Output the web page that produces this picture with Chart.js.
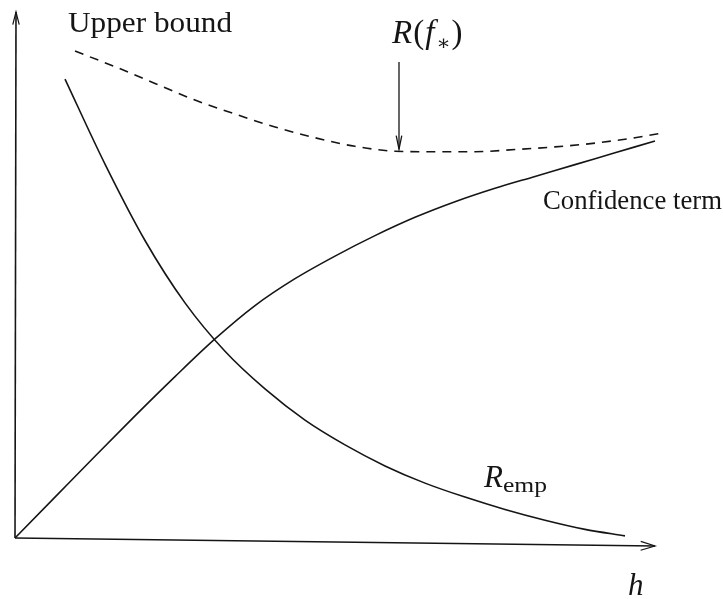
<!DOCTYPE html>
<html>
<head>
<meta charset="utf-8">
<title>Risk bound</title>
<script src="https://cdn.jsdelivr.net/npm/chart.js@4"></script>
<style>
    html, body { margin: 0; padding: 0; background: #fff; }
    canvas { display: block; }
</style>
</head>
<body>
<canvas id="bound" width="723" height="599"></canvas>
<script>
(function () {
    "use strict";

    // capacity h on the horizontal axis, risk on the vertical one (arbitrary units)
    const confH   = [0, 1, 2, 3, 4, 5, 6, 7, 8, 9, 10, 11, 12, 13, 14, 15, 16];
    const confVal = [0, 0.76, 1.52, 2.27, 3.00, 3.70, 4.32, 4.82, 5.24, 5.62, 5.96, 6.25, 6.50, 6.72, 6.94, 7.16, 7.38];

    const empH   = [1.25, 2.25, 3.25, 4.25, 5.25, 6.25, 7.25, 8.25, 9.25, 10.25, 11.25, 12.25, 13.25, 14.25, 15.25];
    const empVal = [8.53, 6.95, 5.53, 4.37, 3.47, 2.77, 2.19, 1.73, 1.34, 1.02, 0.76, 0.53, 0.33, 0.16, 0.04];

    const boundH   = [1.5, 2.5, 3.5, 4.5, 5.5, 6.5, 7.5, 8.5, 9.5, 10.5, 11.5, 12.5, 13.5, 14.5, 15.5, 16.2];
    const boundVal = [9.05, 8.76, 8.45, 8.14, 7.88, 7.64, 7.44, 7.28, 7.19, 7.18, 7.18, 7.22, 7.27, 7.34, 7.44, 7.53];

    // where the R(f*) arrow points on the upper bound
    const bestH = 9.6;

    const INK = "#151515";
    const SERIF = '"Liberation Serif", "DejaVu Serif", serif';

    function points(xs, ys) {
        return xs.map((x, i) => ({ x: x, y: ys[i] }));
    }

    function line(data, dashed) {
        return {
            data: data,
            borderColor: INK,
            borderWidth: 1.6,
            borderDash: dashed ? [9, 7] : [],
            pointRadius: 0,
            fill: false,
            cubicInterpolationMode: "monotone",
            clip: false
        };
    }

    function boundAt(h) {
        for (let i = 1; i < boundH.length; i++) {
            if (h <= boundH[i]) {
                const t = (h - boundH[i - 1]) / (boundH[i] - boundH[i - 1]);
                return boundVal[i - 1] + t * (boundVal[i] - boundVal[i - 1]);
            }
        }
        return boundVal[boundVal.length - 1];
    }

    // text drawn at x, optionally squeezed or stretched to a given width
    function text(ctx, str, x, y, font, width) {
        ctx.save();
        ctx.font = font;
        const w = ctx.measureText(str).width;
        ctx.translate(x, y);
        ctx.scale(width ? width / w : 1, 1);
        ctx.fillText(str, 0, 0);
        ctx.restore();
        return width || w;
    }

    function arrowHead(ctx, x, y, angle, len, spread) {
        ctx.beginPath();
        ctx.moveTo(x - len * Math.cos(angle - spread), y - len * Math.sin(angle - spread));
        ctx.lineTo(x, y);
        ctx.lineTo(x - len * Math.cos(angle + spread), y - len * Math.sin(angle + spread));
        ctx.stroke();
    }

    const decorations = {
        id: "decorations",
        afterDatasetsDraw(chart) {
            const ctx = chart.ctx;
            const sx = chart.scales.x;
            const sy = chart.scales.y;
            const ox = sx.getPixelForValue(0);
            const oy = sy.getPixelForValue(0);

            ctx.save();
            ctx.strokeStyle = INK;
            ctx.fillStyle = INK;
            ctx.lineWidth = 1.6;
            ctx.setLineDash([]);

            // axes
            const topY = 12;
            ctx.beginPath();
            ctx.moveTo(ox, oy);
            ctx.lineTo(ox + 1, topY);
            ctx.stroke();
            ctx.lineWidth = 1.2;
            arrowHead(ctx, ox + 1, topY, -Math.PI / 2, 13, 0.25);

            const tipX = sx.getPixelForValue(16), tipY = oy + 8;
            ctx.lineWidth = 1.6;
            ctx.beginPath();
            ctx.moveTo(ox, oy);
            ctx.lineTo(tipX, tipY);
            ctx.stroke();
            ctx.lineWidth = 1.2;
            arrowHead(ctx, tipX, tipY, Math.atan2(tipY - oy, tipX - ox), 15, 0.3);

            // arrow down to the best trade-off
            const mx = sx.getPixelForValue(bestH);
            const my = sy.getPixelForValue(boundAt(bestH)) - 2;
            ctx.lineWidth = 1.3;
            ctx.beginPath();
            ctx.moveTo(mx, 62);
            ctx.lineTo(mx, my);
            ctx.stroke();
            arrowHead(ctx, mx, my, Math.PI / 2, 14, 0.2);

            // labels
            ctx.textBaseline = "alphabetic";
            text(ctx, "Upper bound", 68, 32, "29px " + SERIF, 164);
            text(ctx, "Confidence term", 543, 209, "27px " + SERIF, 179);

            let x = 392;
            x += text(ctx, "R", x, 43, "italic 33px " + SERIF) + 1;
            x += text(ctx, "(", x, 43, "33px " + SERIF) + 1;
            x += text(ctx, "f", x, 43, "italic 33px " + SERIF) + 2;
            x += text(ctx, "\u2217", x, 50, "21px " + SERIF) + 1;
            text(ctx, ")", x, 43, "33px " + SERIF);

            text(ctx, "R", 484, 487, "italic 31px " + SERIF);
            text(ctx, "emp", 503, 492, "22px " + SERIF, 44);

            text(ctx, "h", 628, 595, "italic 31px " + SERIF);
            ctx.restore();
        }
    };

    new Chart(document.getElementById("bound").getContext("2d"), {
        type: "line",
        data: {
            datasets: [
                line(points(confH, confVal), false),
                line(points(empH, empVal), false),
                line(points(boundH, boundVal), true)
            ]
        },
        options: {
            responsive: false,
            animation: false,
            devicePixelRatio: 1,
            layout: { padding: { left: 15, right: 68, top: 0, bottom: 61 } },
            plugins: { legend: { display: false }, tooltip: { enabled: false } },
            scales: {
                x: { type: "linear", min: 0, max: 16, display: false },
                y: { type: "linear", min: 0, max: 10, display: false }
            }
        },
        plugins: [decorations]
    });
})();
</script>
</body>
</html>
